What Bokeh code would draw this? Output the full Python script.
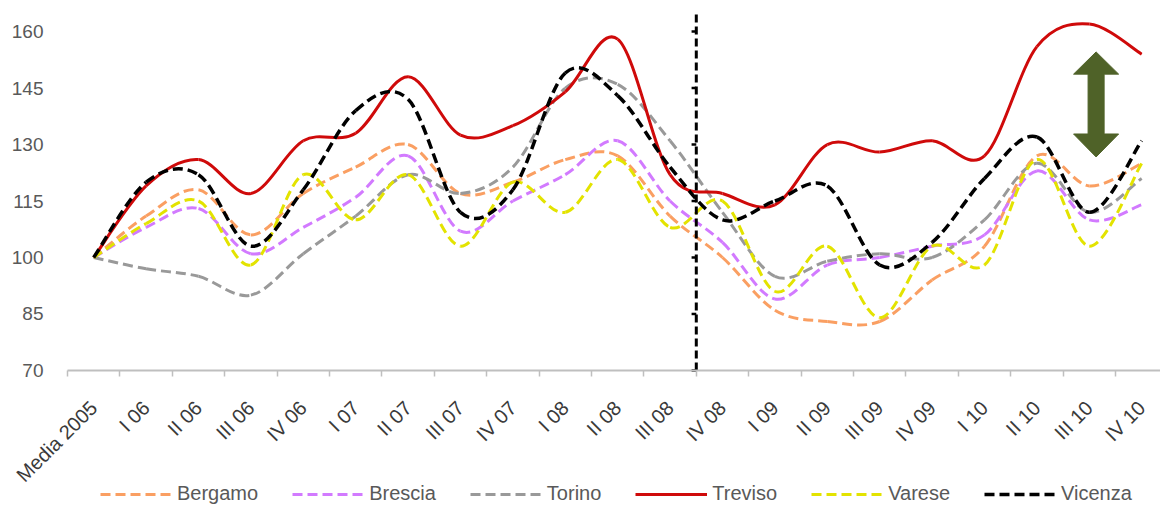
import math
from bokeh.plotting import figure
from bokeh.models import Range1d, FixedTicker, Legend, LegendItem
from bokeh.embed import file_html
from bokeh.resources import INLINE

# ---------------- data ----------------
categories = ["Media 2005", "I 06", "II 06", "III 06", "IV 06", "I 07", "II 07",
              "III 07", "IV 07", "I 08", "II 08", "III 08", "IV 08", "I 09",
              "II 09", "III 09", "IV 09", "I 10", "II 10", "III 10", "IV 10"]

bergamo = [100, 111, 118, 106, 117, 124, 130, 117, 120, 126, 127, 111, 100, 86, 83, 83, 94, 103, 127, 119, 125]
brescia = [100, 108, 113, 101, 108, 116, 127, 107, 115, 122, 131, 115, 104, 89, 98, 100, 103, 106, 123, 110, 114]
torino = [100, 97, 95, 90, 101, 111, 122, 117, 124, 145, 146, 131, 112, 95, 99, 101, 100, 110, 125, 112, 121]
treviso = [100, 119, 126, 117, 131, 133, 148, 132.5, 135, 144, 158, 122, 117, 114, 130, 128, 131, 127, 156, 162, 154]
varese = [100, 109, 115, 98, 122, 110, 122, 103, 120, 112, 126, 108, 115, 91, 103, 84, 103, 98, 126, 103, 125]
vicenza = [100, 120, 122, 103, 118, 139, 142, 112, 118, 149, 143, 124, 110, 115, 119, 98, 104, 121, 132, 112, 131]

series_names = ["Bergamo", "Brescia", "Torino", "Treviso", "Varese", "Vicenza"]
y_ticks = [70, 85, 100, 115, 130, 145, 160]

# ---------------- styles ----------------
colors = ["#FA9F62", "#D27AFF", "#999999", "#CF0A0A", "#E3E300", "#000000"]
dashes = ["10 5", "10 5", "10 5", "solid", "10 5", "10 5"]
widths = [3, 3, 3, 3, 3, 3.5]

X_START, X_END = -1.7786, 20.359   # room on the left for the value labels
CAT_FIRST, CAT_LAST = -0.5, 20.36   # extent of the category axis line
Y_TOP = 165.6       # top of the visible value range (room for the separator)
Y_BOTTOM = 33.6     # extra room under the axis for tick labels and legend
AXIS_AT = 70

# annotation: vertical separator (between III 08 and IV 08) and the double arrow
SEP_X = 11.5
ARROW_X, HEAD_HALF, SHAFT_HALF = 19.13, 0.43, 0.153
TIP_TOP, BASE_TOP, BASE_BOT, TIP_BOT = 154.6, 148.7, 132.8, 126.7

p = figure(width=1160, height=507, output_backend="svg", toolbar_location=None,
           x_range=Range1d(X_START, X_END), y_range=Range1d(Y_BOTTOM, Y_TOP),
           min_border_left=0, min_border_right=0, min_border_top=10,
           min_border_bottom=0)
p.outline_line_color = None
p.xgrid.visible = False
p.ygrid.visible = False
p.background_fill_color = "white"
p.border_fill_color = "white"


def smooth_segments(ys):
    xs = list(range(len(ys)))
    n = len(ys)
    xp = [xs[0]] + xs + [xs[-1]]
    yp = [ys[0]] + list(ys) + [ys[-1]]
    d = dict(x0=[], y0=[], x1=[], y1=[], cx0=[], cy0=[], cx1=[], cy1=[])
    for i in range(n - 1):
        d["x0"].append(xp[i + 1]); d["y0"].append(yp[i + 1])
        d["x1"].append(xp[i + 2]); d["y1"].append(yp[i + 2])
        d["cx0"].append(xp[i + 1] + (xp[i + 2] - xp[i]) / 6.0)
        d["cy0"].append(yp[i + 1] + (yp[i + 2] - yp[i]) / 6.0)
        d["cx1"].append(xp[i + 2] - (xp[i + 3] - xp[i + 1]) / 6.0)
        d["cy1"].append(yp[i + 2] - (yp[i + 3] - yp[i + 1]) / 6.0)
    return d


all_series = [bergamo, brescia, torino, treviso, varese, vicenza]
items = []
for name, vals, c, dsh, w in zip(series_names, all_series, colors, dashes, widths):
    seg = smooth_segments(vals)
    r = p.bezier(x0="x0", y0="y0", x1="x1", y1="y1", cx0="cx0", cy0="cy0",
                 cx1="cx1", cy1="cy1", source=seg, line_color=c, line_width=w,
                 line_dash=dsh)
    items.append(LegendItem(label=name, renderers=[r]))

# vertical dashed separator with its small tick marks
p.segment(x0=[SEP_X], y0=[AXIS_AT], x1=[SEP_X], y1=[Y_TOP],
          line_color="black", line_width=3, line_dash="8 4")
p.segment(x0=[SEP_X - 0.09] * len(y_ticks), y0=y_ticks,
          x1=[SEP_X] * len(y_ticks), y1=y_ticks, line_color="black", line_width=2.5)

# double arrow
ax = [ARROW_X, ARROW_X + HEAD_HALF, ARROW_X + SHAFT_HALF, ARROW_X + SHAFT_HALF,
      ARROW_X + HEAD_HALF, ARROW_X, ARROW_X - HEAD_HALF, ARROW_X - SHAFT_HALF,
      ARROW_X - SHAFT_HALF, ARROW_X - HEAD_HALF]
ay = [TIP_TOP, BASE_TOP, BASE_TOP, BASE_BOT, BASE_BOT, TIP_BOT, BASE_BOT,
      BASE_BOT, BASE_TOP, BASE_TOP]
p.patch(ax, ay, fill_color="#4F6228", line_color="#4F6228", line_width=1)

# axes
xa = p.xaxis[0]
xa.fixed_location = AXIS_AT
xa.bounds = (CAT_FIRST, CAT_LAST)
xa.ticker = FixedTicker(ticks=list(range(len(categories))),
                        minor_ticks=[i - 0.5 for i in range(len(categories) + 1)])
xa.major_label_overrides = {i: c for i, c in enumerate(categories)}
xa.major_label_orientation = math.pi / 4
xa.major_tick_out = 0
xa.major_tick_in = 0
xa.minor_tick_out = 6
xa.minor_tick_in = 0
xa.minor_tick_line_color = "#BFBFBF"
xa.minor_tick_line_width = 1.5
xa.axis_line_color = "#BFBFBF"
xa.axis_line_width = 2
xa.major_label_standoff = 28
xa.major_label_text_font = "Liberation Sans"
xa.major_label_text_font_size = "20px"
xa.major_label_text_color = "#3A3A3A"

ya = p.yaxis[0]
ya.fixed_location = CAT_FIRST
ya.ticker = FixedTicker(ticks=y_ticks)
ya.axis_line_color = None
ya.major_tick_out = 0
ya.major_tick_in = 0
ya.minor_tick_out = 0
ya.minor_tick_in = 0
ya.major_label_standoff = 24
ya.major_label_text_font = "Liberation Sans"
ya.major_label_text_font_size = "19px"
ya.major_label_text_color = "#595959"

legend = Legend(items=items, orientation="horizontal", location=(100, 2),
                glyph_width=72, glyph_height=18, label_standoff=5, spacing=34,
                padding=0, margin=0, border_line_color=None,
                background_fill_alpha=0,
                label_text_font="Liberation Sans", label_text_font_size="20px",
                label_text_color="#595959")
p.add_layout(legend, "center")

open("out.html", "w").write(file_html(p, INLINE))
